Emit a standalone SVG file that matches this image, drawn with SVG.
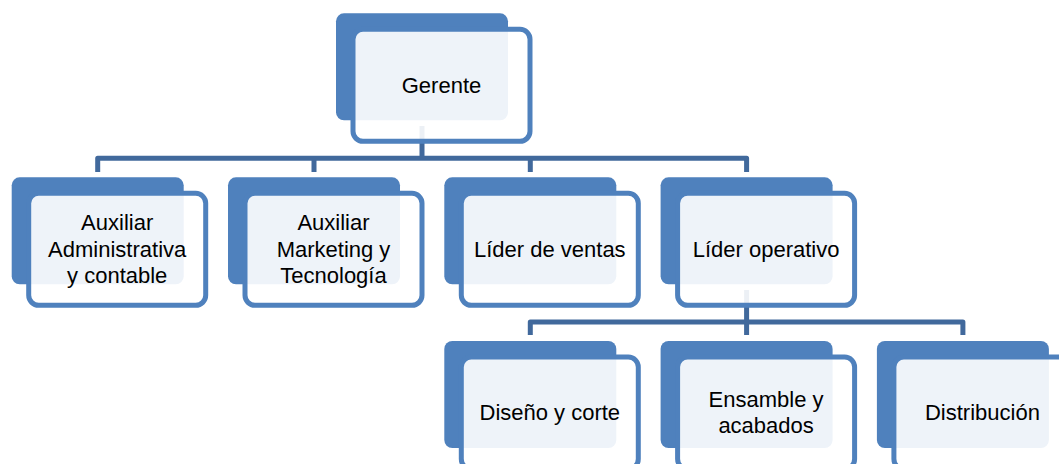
<svg xmlns="http://www.w3.org/2000/svg" width="1059" height="464" viewBox="0 0 1059 464">
<style>
.back{fill:#4F81BD}
.front{fill:#FFFFFF;fill-opacity:0.9;stroke:#4F81BD;stroke-width:5}
.conn{fill:none;stroke:#41699C;stroke-width:5;stroke-linejoin:round}
text{font-family:"Liberation Sans",Arial,sans-serif;font-size:22px;fill:#000;text-anchor:middle}
</style>
<rect width="1059" height="464" fill="#FFFFFF"/>
<g id="connectors">
<path class="conn" d="M422 126 V158.3 M97.7 172 V158.3 H746.6 V172 M314 158.3 V172 M530.3 158.3 V172"/>
<path class="conn" d="M746.6 290 V322 M530.3 335 V322 H962.9 V335 M746.6 322 V335"/>
</g>
<g id="gerente" transform="translate(336,13.3)">
<rect class="back" width="172" height="107" rx="8"/>
<rect class="front" x="17" y="16" width="177" height="112" rx="10"/>
<text x="105.5" y="79.5">Gerente</text>
</g>
<g id="aux-admin" transform="translate(11.7,177.3)">
<rect class="back" width="172" height="107" rx="8"/>
<rect class="front" x="17" y="16" width="177" height="112" rx="10"/>
<text x="105.5" y="53">Auxiliar</text>
<text x="105.5" y="79.5">Administrativa</text>
<text x="105.5" y="105.5">y contable</text>
</g>
<g id="aux-marketing" transform="translate(228,177.3)">
<rect class="back" width="172" height="107" rx="8"/>
<rect class="front" x="17" y="16" width="177" height="112" rx="10"/>
<text x="105.5" y="53">Auxiliar</text>
<text x="105.5" y="79.5">Marketing y</text>
<text x="105.5" y="105.5">Tecnología</text>
</g>
<g id="lider-ventas" transform="translate(444.3,177.3)">
<rect class="back" width="172" height="107" rx="8"/>
<rect class="front" x="17" y="16" width="177" height="112" rx="10"/>
<text x="105.5" y="79.5">Líder de ventas</text>
</g>
<g id="lider-operativo" transform="translate(660.6,177.3)">
<rect class="back" width="172" height="107" rx="8"/>
<rect class="front" x="17" y="16" width="177" height="112" rx="10"/>
<text x="105.5" y="79.5">Líder operativo</text>
</g>
<g id="diseno" transform="translate(444.3,341)">
<rect class="back" width="172" height="107" rx="8"/>
<rect class="front" x="17" y="16" width="177" height="112" rx="10"/>
<text x="105.5" y="79">Diseño y corte</text>
</g>
<g id="ensamble" transform="translate(660.6,341)">
<rect class="back" width="172" height="107" rx="8"/>
<rect class="front" x="17" y="16" width="177" height="112" rx="10"/>
<text x="105.5" y="66">Ensamble y</text>
<text x="105.5" y="92">acabados</text>
</g>
<g id="distribucion" transform="translate(876.9,341)">
<rect class="back" width="172" height="107" rx="8"/>
<rect class="front" x="17" y="16" width="177" height="112" rx="10"/>
<text x="105.5" y="79">Distribución</text>
</g>
</svg>
